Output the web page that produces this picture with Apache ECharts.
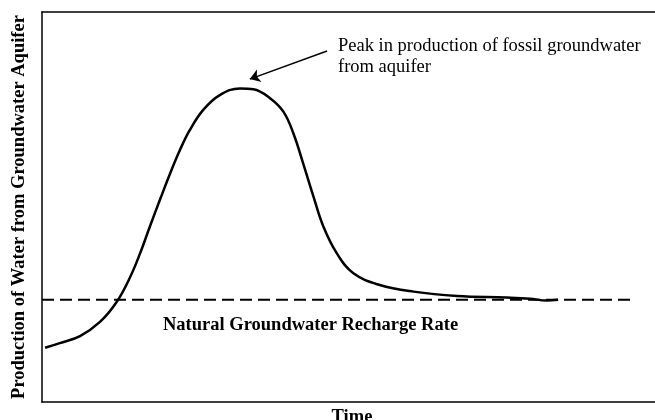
<!DOCTYPE html>
<html>
<head>
<meta charset="utf-8">
<script src="https://cdn.jsdelivr.net/npm/echarts@6/dist/echarts.min.js"></script>
<style>html,body{margin:0;padding:0;background:#fff}#c{width:655px;height:420px}</style>
</head>
<body>
<div id="c"></div>
<script>
// Production curve (time, production) in relative units 0-100
const timeValues = [0.5, 2.9, 6.2, 9.5, 12.2, 14.4, 16.0, 17.6, 19.3, 20.9, 22.5, 24.1, 26.3, 29.0, 32.3, 34.5, 37.2, 39.4, 41.0, 42.6, 44.3, 45.9, 48.1, 50.8, 55.1, 60.6, 67.7, 75.8, 79.6, 82.3, 84.2];
const productionValues = [13.9, 15.1, 16.9, 20.6, 25.7, 32.1, 38.1, 45.0, 52.1, 58.6, 64.6, 69.7, 74.9, 78.7, 80.4, 80.2, 77.9, 74.4, 68.9, 61.2, 52.6, 45.0, 38.1, 33.0, 30.0, 28.3, 27.2, 26.8, 26.5, 26.0, 26.2];
// Natural recharge rate (constant)
const rechargeRate = 26.2;
const rechargeSpan = [0, 96.4];
// Annotation arrow: tail -> head (pointing at peak)
const arrowTail = [46.5, 90.0];
const arrowHead = [33.9, 82.8];

const yAxisTitle = 'Production of Water from Groundwater Aquifer';
const xAxisTitle = 'Time';
const peakLabel = 'Peak in production of fossil groundwater\nfrom aquifer';
const rechargeLabel = 'Natural Groundwater Recharge Rate';

const serif = 'Liberation Serif, Times New Roman, serif';
const chart = echarts.init(document.getElementById('c'));
const curve = timeValues.map((t, i) => [t, productionValues[i]]);
const recharge = rechargeSpan.map(t => [t, rechargeRate]);

chart.setOption({
  animation: false,
  backgroundColor: '#fff',
  grid: { left: 42, top: 12, right: 0, bottom: 18, containLabel: false, outerBoundsMode: 'none' },
  xAxis: [{
    type: 'value', min: 0, max: 100, position: 'bottom',
    name: xAxisTitle, nameLocation: 'middle', nameGap: 6,
    nameTextStyle: { fontFamily: serif, fontWeight: 'bold', fontSize: 18.5, color: '#000', padding: [0, 0, 0, 7] },
    axisLine: { show: true, onZero: false, lineStyle: { color: '#000', width: 1.5 } },
    axisTick: { show: false }, axisLabel: { show: false }, splitLine: { show: false }
  }, {
    type: 'value', min: 0, max: 100, position: 'top',
    axisLine: { show: true, onZero: false, lineStyle: { color: '#000', width: 1.5 } },
    axisTick: { show: false }, axisLabel: { show: false }, splitLine: { show: false }
  }],
  yAxis: {
    type: 'value', min: 0, max: 100,
    name: yAxisTitle, nameLocation: 'middle', nameGap: 13,
    nameTextStyle: { fontFamily: serif, fontWeight: 'bold', fontSize: 18.5, color: '#000' },
    axisLine: { show: true, onZero: false, lineStyle: { color: '#000', width: 1.5 } },
    axisTick: { show: false }, axisLabel: { show: false }, splitLine: { show: false }
  },
  series: [{
    type: 'line', data: recharge, symbol: 'none', silent: true,
    lineStyle: { color: '#000', width: 2, type: [12, 6] }
  }, {
    type: 'line', data: curve, symbol: 'none', smooth: 0.4, silent: true,
    lineStyle: { color: '#000', width: 2.5 },
    markLine: {
      silent: true, symbol: ['none', 'arrow'], symbolSize: 10,
      label: { show: false },
      lineStyle: { color: '#000', width: 1.5, type: 'solid' },
      data: [[{ coord: arrowTail }, { coord: arrowHead }]]
    }
  }],
  graphic: [{
    type: 'text', left: 338, top: 36,
    style: { text: peakLabel, fontFamily: serif, fontSize: 18.5, lineHeight: 21, fill: '#000' }
  }, {
    type: 'text', left: 163, top: 316,
    style: { text: rechargeLabel, fontFamily: serif, fontWeight: 'bold', fontSize: 18.5, fill: '#000' }
  }]
});
</script>
</body>
</html>
